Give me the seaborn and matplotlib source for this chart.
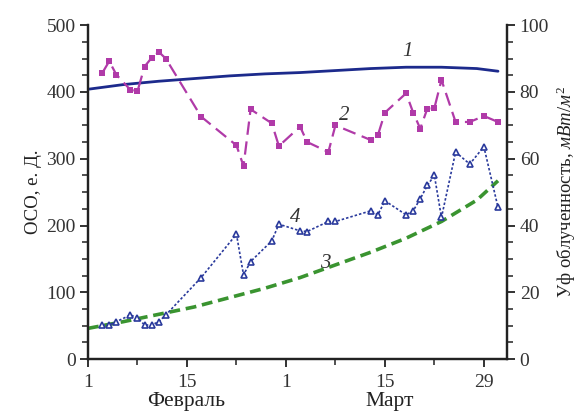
import matplotlib
matplotlib.use("Agg")
import matplotlib.pyplot as plt
import seaborn as sns
import pandas as pd
from matplotlib.ticker import MultipleLocator, FixedLocator

sns.set_theme(style="white")
plt.rcParams['font.family'] = ['Liberation Serif', 'DejaVu Serif']
plt.rcParams['mathtext.fontset'] = 'custom'
plt.rcParams['mathtext.it'] = 'Liberation Serif:italic'
plt.rcParams['mathtext.rm'] = 'Liberation Serif'

# day index: 0 = 1 February
days1 = [0, 5, 10, 15, 20, 25, 30, 35, 40, 45, 50, 55, 58]
oso1 = [404, 411, 416, 420, 424, 427, 429, 432, 435, 437, 437, 435, 431]

days2 = [2, 3, 4, 6, 7, 8, 9, 10, 11, 16, 21, 22, 23, 26, 27, 30, 31, 34, 35,
         40, 41, 42, 45, 46, 47, 48, 49, 50, 52, 54, 56, 58]
oso2 = [428, 446, 426, 403, 401, 438, 451, 460, 450, 363, 320, 289, 374, 353,
        319, 348, 325, 310, 350, 328, 335, 369, 398, 369, 345, 375, 376, 418,
        355, 355, 364, 355]

days3 = [0, 5, 10, 15, 20, 25, 30, 35, 40, 45, 50, 55, 58]
uv3 = [9.2, 11.2, 13.4, 15.6, 18.4, 21.2, 24.4, 28.2, 32.0, 36.2, 41.2, 47.6, 53.4]

days4 = [2, 3, 4, 6, 7, 8, 9, 10, 11, 16, 21, 22, 23, 26, 27, 30, 31, 34, 35,
         40, 41, 42, 45, 46, 47, 48, 49, 50, 52, 54, 56, 58]
uv4 = [10.2, 10.2, 11.2, 13.2, 12.4, 10.2, 10.2, 11.2, 13.2, 24.4, 37.4, 25.2,
       29.2, 35.4, 40.4, 38.4, 38.2, 41.2, 41.2, 44.4, 43.2, 47.4, 43.2, 44.4,
       48.0, 52.0, 55.0, 42.4, 62.0, 58.4, 63.6, 45.4]

xtick_pos = [0, 14, 28, 42, 56]
xtick_labels = ["1", "15", "1", "15", "29"]
months = ["Февраль", "Март"]

fig = plt.figure(figsize=(5.79, 4.19), dpi=100)
ax = fig.add_axes([0.152, 0.143, 0.724, 0.797])
ax2 = ax.twinx()

df1 = pd.DataFrame({"d": days1, "v": oso1})
df2 = pd.DataFrame({"d": days2, "v": oso2})
df3 = pd.DataFrame({"d": days3, "v": uv3})
df4 = pd.DataFrame({"d": days4, "v": uv4})

sns.lineplot(data=df1, x="d", y="v", ax=ax, color="#1c2a8c", lw=2.0)
sns.lineplot(data=df2, x="d", y="v", ax=ax, color="#b03aa8", lw=1.6,
             dashes=False, marker="s", markersize=4.2, markeredgewidth=0,
             linestyle=(0, (6, 3)))
sns.lineplot(data=df3, x="d", y="v", ax=ax2, color="#3a9430", lw=2.6,
             linestyle=(0, (3, 1.6)))
sns.lineplot(data=df4, x="d", y="v", ax=ax2, color="#2a3a9c", lw=1.2,
             linestyle=(0, (1.5, 1.2)), marker="^", markersize=5.0,
             markerfacecolor="white", markeredgecolor="#2a3a9c",
             markeredgewidth=1.2)

ax.set_xlim(0, 59.3)
ax.set_ylim(0, 500)
ax2.set_ylim(0, 100)

ax.xaxis.set_major_locator(FixedLocator(xtick_pos))
ax.set_xticklabels(xtick_labels)
ax.xaxis.set_minor_locator(MultipleLocator(7))
ax.yaxis.set_major_locator(MultipleLocator(100))
ax.yaxis.set_minor_locator(MultipleLocator(25))
ax2.yaxis.set_major_locator(MultipleLocator(20))
ax2.yaxis.set_minor_locator(MultipleLocator(5))

for a in (ax, ax2):
    for s in ("top",):
        a.spines[s].set_visible(False)
    for s in ("left", "right", "bottom"):
        a.spines[s].set_linewidth(1.6)
        a.spines[s].set_color("#222222")
    a.tick_params(which="major", length=6, width=1.3, direction="out",
                  labelsize=14, colors="#222222", pad=3)
    a.tick_params(which="minor", length=4, width=1.1, direction="out",
                  colors="#222222")
ax.tick_params(axis="x", which="both", bottom=True)
ax.tick_params(axis="x", which="major", labelsize=14, pad=5)
ax.tick_params(axis="y", which="both", left=True)
ax2.tick_params(axis="y", which="both", right=True)
for a in (ax, ax2):
    for lbl in a.get_xticklabels() + a.get_yticklabels():
        lbl.set_color("#333333")

ax.set_xlabel("")
ax.set_ylabel("ОСО, е. Д.", fontsize=13.5, color="#222222", labelpad=3)
ax2.set_xlabel("")
ax2.set_ylabel("Уф облученность, $мВт/м^2$", fontsize=13.5, color="#222222",
               labelpad=4)

ax.text(13.9, -0.098, months[0], transform=ax.get_xaxis_transform(),
        ha="center", va="top", fontsize=15.5, color="#222222")
ax.text(42.7, -0.098, months[1], transform=ax.get_xaxis_transform(),
        ha="center", va="top", fontsize=15.5, color="#222222")

for t, (xx, yy) in zip(["1", "2", "3", "4"],
                       [(45.2, 460), (36.3, 364), (33.6, 143), (29.3, 212)]):
    ax.text(xx, yy, t, fontsize=15, style="italic", color="#333333",
            ha="center", va="center")

fig.savefig("out.png", dpi=100)
